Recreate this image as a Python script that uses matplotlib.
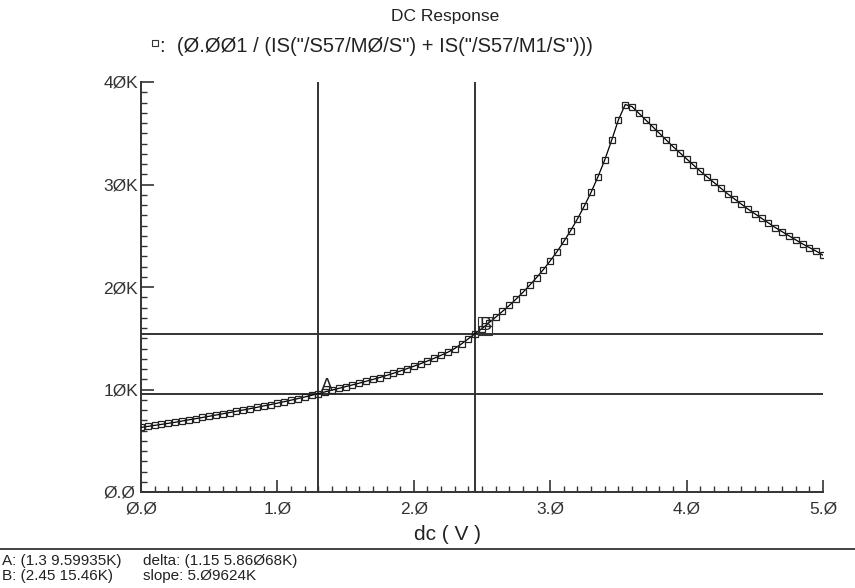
import numpy as np
import matplotlib.pyplot as plt
from matplotlib.lines import Line2D
from matplotlib.ticker import MultipleLocator, FuncFormatter

plt.rcParams['font.family'] = ['Liberation Sans', 'DejaVu Sans']

# sweep voltage (V) and response (K)
dc = np.arange(0, 101) * 0.05
resp_k = [
    6.30, 6.40, 6.50, 6.60, 6.70, 6.80, 6.92, 7.04, 7.15, 7.27,
    7.39, 7.51, 7.63, 7.75, 7.88, 8.00, 8.13, 8.26, 8.40, 8.53,
    8.67, 8.81, 8.96, 9.11, 9.27, 9.43, 9.60, 9.77, 9.94, 10.11,
    10.28, 10.45, 10.62, 10.80, 10.98, 11.17, 11.37, 11.58, 11.80, 12.03,
    12.27, 12.52, 12.78, 13.05, 13.34, 13.64, 14.00, 14.45, 14.95, 15.46,
    15.95, 16.50, 17.05, 17.62, 18.20, 18.82, 19.48, 20.18, 20.92, 21.70,
    22.55, 23.45, 24.45, 25.50, 26.65, 27.90, 29.25, 30.75, 32.40, 34.30,
    36.30, 37.80, 37.60, 36.95, 36.30, 35.65, 35.00, 34.35, 33.70, 33.10,
    32.50, 31.90, 31.30, 30.75, 30.20, 29.65, 29.10, 28.60, 28.10, 27.60,
    27.15, 26.70, 26.25, 25.80, 25.40, 25.00, 24.60, 24.20, 23.85, 23.50,
    23.10,
]
resp = np.array(resp_k) * 1000

# cursors
cursor_a = (1.3, 9599.35)
cursor_b = (2.45, 15460.0)

x_ticks = [0, 1, 2, 3, 4, 5]
y_ticks = [0, 10000, 20000, 30000, 40000]


def slashed(s):
    return s.replace('0', '\u00d8')


def ylab(v, pos):
    if v == 0:
        return slashed("0.0")
    return slashed(f"{int(v / 1000)}K")


fig = plt.figure(figsize=(8.55, 5.88), dpi=100)
fig.patch.set_facecolor('white')
ax = fig.add_axes([141 / 855, 1 - 492 / 588, (823 - 141) / 855, (492 - 82) / 588])

ax.plot(dc, resp, color='black', lw=0.9, marker='s', ms=5, mfc='none',
        mec='#222222', mew=0.9, zorder=3)

# cursor lines
for x, y in (cursor_a, cursor_b):
    ax.axvline(x, color='#333333', lw=1.4, zorder=2)
    ax.axhline(y, color='#333333', lw=1.4, zorder=2)
ax.text(cursor_a[0] + 0.02, cursor_a[1] + 300, "A", fontsize=13, color='#222222')
ax.text(cursor_b[0] + 0.03, cursor_b[1] + 300, "B", fontsize=13, color='#222222',
        bbox=dict(boxstyle='square,pad=0.05', fc='none', ec='#333333', lw=0.8))

ax.set_xlim(0, 5)
ax.set_ylim(0, 40000)
for s in ('top', 'right'):
    ax.spines[s].set_visible(False)
for s in ('left', 'bottom'):
    ax.spines[s].set_linewidth(1.4)
    ax.spines[s].set_color('#333333')

ax.set_xticks(x_ticks)
ax.set_yticks(y_ticks)
ax.xaxis.set_minor_locator(MultipleLocator(0.1))
ax.yaxis.set_minor_locator(MultipleLocator(1000))
ax.xaxis.set_major_formatter(FuncFormatter(lambda v, p: slashed(f"{v:.1f}")))
ax.yaxis.set_major_formatter(FuncFormatter(ylab))
ax.tick_params(which='major', direction='in', length=9, width=1.2, color='#333333',
               labelsize=12.5, labelcolor='#333333')
ax.tick_params(which='minor', direction='in', length=4.5, width=1.0, color='#333333')
ax.tick_params(axis='y', which='major', pad=27)
for lab in ax.get_yticklabels():
    lab.set_horizontalalignment('left')
ax.tick_params(axis='x', which='major', pad=7)

fig.text(447 / 855, 1 - 535 / 588, "dc ( V )", ha='center', va='center',
         fontsize=15, color='#222222')

fig.text(445 / 855, 1 - 16 / 588, "DC Response", ha='center', va='center',
         fontsize=12.5, color='#222222')
fig.add_artist(Line2D([155 / 855], [1 - 43 / 588], marker='s', ms=4, mfc='none',
                      mec='#333333', mew=0.8, transform=fig.transFigure))
fig.text(160 / 855, 1 - 47 / 588,
         slashed(':  (0.001 / (IS("/S57/M0/S") + IS("/S57/M1/S")))'),
         ha='left', va='center', fontsize=14.5, color='#222222')

# readout area
fig.add_artist(Line2D([0, 1], [1 - 549 / 588, 1 - 549 / 588], color='#333333', lw=1.3,
                      transform=fig.transFigure))
fig.text(2 / 855, 1 - 561 / 588, slashed("A: (1.3 9.59935K)"), fontsize=11,
         va='center', ha='left', color='#222222')
fig.text(143 / 855, 1 - 561 / 588, slashed("delta: (1.15 5.86068K)"), fontsize=11,
         va='center', ha='left', color='#222222')
fig.text(2 / 855, 1 - 576 / 588, slashed("B: (2.45 15.46K)"), fontsize=11,
         va='center', ha='left', color='#222222')
fig.text(143 / 855, 1 - 576 / 588, slashed("slope: 5.09624K"), fontsize=11,
         va='center', ha='left', color='#222222')

fig.savefig("out.png", dpi=100, facecolor='white')
